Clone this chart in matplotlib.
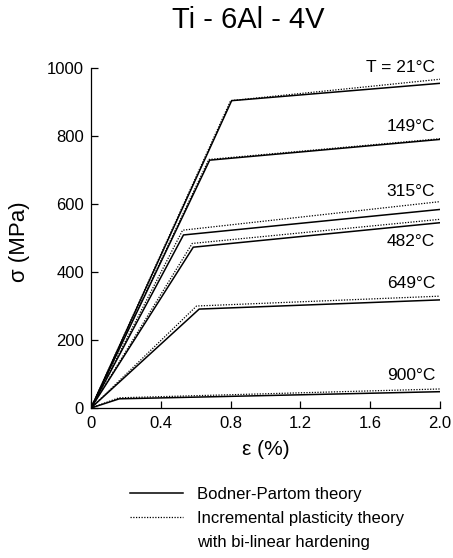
import matplotlib
matplotlib.use("Agg")
import matplotlib.pyplot as plt
from matplotlib.lines import Line2D

plt.rcParams['font.family'] = ['Liberation Sans', 'DejaVu Sans']

temps = ["T = 21°C", "149°C", "315°C", "482°C", "649°C", "900°C"]
# Bodner-Partom theory: strain (%) and stress (MPa) at origin, knee, end
bp_strain = [[0, 0.806, 2.0], [0, 0.68, 2.0], [0, 0.53, 2.0],
             [0, 0.586, 2.0], [0, 0.62, 2.0], [0, 0.162, 2.0]]
bp_stress = [[0, 904, 955], [0, 729, 790], [0, 509, 584],
             [0, 473, 545], [0, 291, 318], [0, 27, 48]]
# Incremental plasticity theory with bi-linear hardening
ip_strain = [[0, 0.80, 2.0], [0, 0.675, 2.0], [0, 0.525, 2.0],
             [0, 0.58, 2.0], [0, 0.605, 2.0], [0, 0.16, 2.0]]
ip_stress = [[0, 904, 967], [0, 731, 792], [0, 523, 607],
             [0, 484, 555], [0, 300, 329], [0, 30, 56]]
label_y = [1002, 827, 638, 490, 365, 95]

xticks = [0, 0.4, 0.8, 1.2, 1.6, 2.0]
xticklabels = ["0", "0.4", "0.8", "1.2", "1.6", "2.0"]
yticks = [0, 200, 400, 600, 800, 1000]

fig = plt.figure(figsize=(4.53, 5.58), dpi=100)
ax = fig.add_axes([0.2009, 0.2688, 0.7704, 0.6093])

for xs, ys in zip(bp_strain, bp_stress):
    ax.plot(xs, ys, color='black', lw=1.1, solid_joinstyle='miter')
for xs, ys in zip(ip_strain, ip_stress):
    ax.plot(xs, ys, color='black', lw=0.9, linestyle=(0, (1, 1.2)))

for t, yv in zip(temps, label_y):
    ax.text(1.972, yv, t, ha='right', va='center', fontsize=12.5)

ax.set_xlim(0, 2.0)
ax.set_ylim(0, 1000)
ax.set_xticks(xticks)
ax.set_xticklabels(xticklabels)
ax.set_yticks(yticks)
ax.spines['top'].set_visible(False)
ax.spines['right'].set_visible(False)
for s in ['left', 'bottom']:
    ax.spines[s].set_linewidth(0.9)
ax.tick_params(direction='in', length=5, width=0.9, labelsize=12)
ax.tick_params(axis='x', pad=6)
ax.tick_params(axis='y', pad=5)

ax.set_xlabel('ε (%)', fontsize=15, labelpad=6)
ax.set_ylabel('σ (MPa)', fontsize=16)
ax.yaxis.set_label_coords(-0.176, 0.49)
fig.text(0.547, 0.964, 'Ti - 6Al - 4V', fontsize=21, ha='center', va='center')

handles = [Line2D([], [], color='black', lw=1.1),
           Line2D([], [], color='black', lw=0.9, linestyle=(0, (1, 1.2))),
           Line2D([], [], lw=0)]
labels = ['Bodner-Partom theory',
          'Incremental plasticity theory',
          'with bi-linear hardening']
fig.legend(handles, labels, loc='upper left', bbox_to_anchor=(0.287, 0.127),
           frameon=False, fontsize=12, handlelength=3.2, handletextpad=0.84,
           labelspacing=0.55, borderaxespad=0, borderpad=0)

fig.savefig('out.png', dpi=100)
